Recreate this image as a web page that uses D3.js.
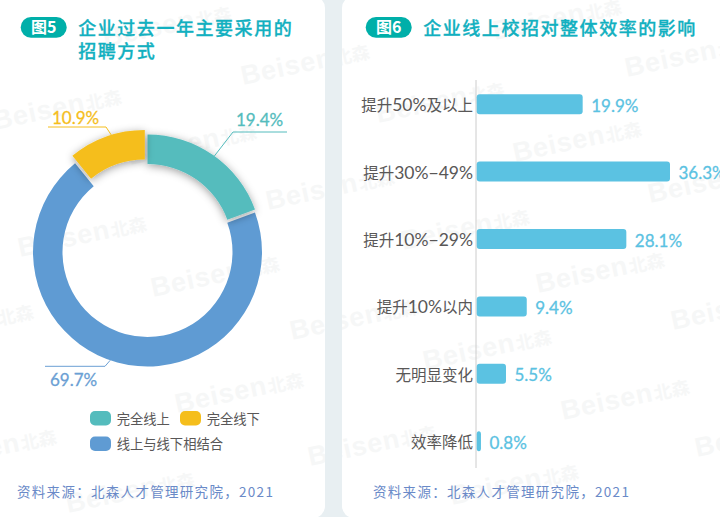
<!DOCTYPE html>
<html><head><meta charset="utf-8">
<script src="https://cdn.jsdelivr.net/npm/d3@7"></script>
<style>
html,body{margin:0;padding:0;background:#fff;overflow:hidden}
svg{display:block}
text{font-family:"Noto Sans CJK SC",sans-serif}
.num{font-family:Lato,"Noto Sans CJK SC",sans-serif;stroke-width:.3}
</style></head><body>
<svg id="c" width="720" height="517"></svg>
<script>
// --- data ---
const donutCategories = ["完全线上", "完全线下", "线上与线下相结合"];
const donutValues = [19.4, 10.9, 69.7];
const donutLabels = ["19.4%", "10.9%", "69.7%"];
const barCategories = ["提升50%及以上", "提升30%−49%", "提升10%−29%", "提升10%以内", "无明显变化", "效率降低"];
const barValues = [19.9, 36.3, 28.1, 9.4, 5.5, 0.8];
const barLabels = ["19.9%", "36.3%", "28.1%", "9.4%", "5.5%", "0.8%"];
const titleLeft = ["企业过去一年主要采用的", "招聘方式"];
const titleRight = ["企业线上校招对整体效率的影响"];
const sourceText = "资料来源：北森人才管理研究院，2021";

// --- layout / style ---
const W = 720, H = 517;
const sliceOrder = [0, 2, 1];           // clockwise order of the ring
const donutColors = ["#54bcbd", "#f5be1c", "#5f9bd3"];
const donutTextColors = ["#54bcbd", "#f5be1c", "#6b9fd4"];
const explode = [[0, -3], [-2.7, -7.5], [0, 0]];
const leaders = [
  {nudge: 0.8,  elbow: [233, 132],   end: [287, 132],   text: [236, 126]},
  {nudge: 2.6,  elbow: [106, 127],   end: [48, 127],    text: [52, 124]},
  {nudge: 3.7,  elbow: [105, 366.3], end: [45, 366.3],  text: [50, 385.7]}
];
const watermarks = [[-5,130],[105,47],[243,85],[130,165],[268,210],[20,257],[153,297],[292,340],[-93,345],[177,413],[-70,470],[310,466],[68,513],
  [495,40],[627,77],[378,123],[515,162],[403,250],[650,203],[538,293],[673,330],[425,370],[563,420],[697,457],[452,505]];

const svg = d3.select("#c");
const defs = svg.append("defs");
const f = defs.append("filter").attr("id","sh").attr("x","-30%").attr("y","-30%").attr("width","160%").attr("height","160%");
f.append("feDropShadow").attr("dx",0).attr("dy",2).attr("stdDeviation",4).attr("flood-color","#000").attr("flood-opacity",0.38);
const clip = defs.append("clipPath").attr("id","cards");
const cards = [[-20,345],[342,398]];
cards.forEach(([cxx,cw]) => clip.append("rect").attr("x",cxx).attr("y",-4).attr("width",cw).attr("height",H+5).attr("rx",12));

// background + cards
svg.append("rect").attr("width",W).attr("height",H).attr("fill","#e8eff2");
cards.forEach(([cxx,cw]) => svg.append("rect").attr("x",cxx).attr("y",-4).attr("width",cw).attr("height",H+5).attr("rx",12).attr("fill","#fff"));

// watermarks
const gW = svg.append("g").attr("clip-path","url(#cards)");
const wm = gW.selectAll("text").data(watermarks).join("text")
  .attr("transform", d => `translate(${d[0]},${d[1]}) rotate(-12)`)
  .attr("font-weight",700).attr("fill","#f6f7f7");
wm.append("tspan").attr("font-size",27).attr("letter-spacing",0.8)
  .style("font-family",'"Liberation Sans",sans-serif').text("Beisen");
wm.append("tspan").attr("font-size",18).attr("dx",1).text("北森");

function heading(x, label, lines) {
  const pillW = 46;
  svg.append("rect").attr("x",x).attr("y",17).attr("width",pillW).attr("height",20.7).attr("rx",10.3).attr("fill","#00afa9");
  svg.append("text").attr("x",x+pillW/2).attr("y",33.3).attr("text-anchor","middle")
    .attr("font-size",16).attr("font-weight",700).attr("fill","#fff").text(label);
  lines.forEach((t,i) => svg.append("text").attr("x",x+57.5).attr("y",34.5+i*23)
    .attr("font-size",18).attr("font-weight",500).attr("letter-spacing",1.55)
    .attr("fill","#12b0c0").attr("stroke","#12b0c0").attr("stroke-width",0.3).text(t));
}
heading(20.7, "图5", titleLeft);
heading(365.7, "图6", titleRight);

// donut
const cx = 147.5, cy = 252, rO = 114.5, rI = 85;
const pieSlices = d3.pie().sort(null).value(i => donutValues[i])(sliceOrder);
const sliceOf = i => pieSlices.find(p => p.data === i);
const arc = d3.arc().innerRadius(rI).outerRadius(rO);
const gD = svg.append("g").attr("transform",`translate(${cx},${cy})`);
[2,0,1].forEach(i => {
  gD.append("path").attr("d",arc(sliceOf(i))).attr("fill",donutColors[i])
    .attr("transform",`translate(${explode[i]})`)
    .attr("filter", i === 2 ? null : "url(#sh)");
});
donutValues.forEach((v,i) => {
  const L = leaders[i], p = sliceOf(i);
  const a = (p.startAngle + p.endAngle)/2 + L.nudge*Math.PI/180;
  const sx = cx + explode[i][0] + Math.sin(a)*rO, sy = cy + explode[i][1] - Math.cos(a)*rO;
  svg.append("path").attr("d",d3.line()([[sx,sy],L.elbow,L.end]))
    .attr("fill","none").attr("stroke",donutTextColors[i]).attr("stroke-width",1);
  svg.append("text").attr("class","num").attr("x",L.text[0]).attr("y",L.text[1])
    .attr("font-size",17).attr("fill",donutTextColors[i]).attr("stroke",donutTextColors[i]).text(donutLabels[i]);
});

// donut legend
const legendPos = [[90,411],[180,411],[90,436.5]];
donutCategories.forEach((c,i) => {
  const [x,y] = legendPos[i];
  svg.append("rect").attr("x",x).attr("y",y).attr("width",21).attr("height",14.5).attr("rx",5).attr("fill",donutColors[i]);
  svg.append("text").attr("x",x+26.7).attr("y",y+12.5).attr("font-size",13.3).attr("fill","#595757").text(c);
});

// bars
const x = d3.scaleLinear().domain([0,36.3]).range([476.7,670]);
const y = d3.scaleBand().domain(barCategories).range([70.5,474.9]).paddingInner(0.703).paddingOuter(0.3515);
svg.append("line").attr("x1",476).attr("x2",476).attr("y1",80).attr("y2",468).attr("stroke","#cccccc").attr("stroke-width",1);
svg.selectAll("rect.bar").data(barCategories).join("rect").attr("class","bar")
  .attr("x",x(0)).attr("y",d => y(d)).attr("width",(d,i) => x(barValues[i])-x(0)).attr("height",y.bandwidth())
  .attr("rx",3).attr("fill","#5bc2e2");
svg.selectAll("text.val").data(barCategories).join("text").attr("class","val num")
  .attr("x",(d,i) => x(barValues[i])+8.5).attr("y",d => y(d)+y.bandwidth()/2+7.5)
  .attr("font-size",17).attr("fill","#5bc2e2").attr("stroke","#5bc2e2").text((d,i) => barLabels[i]);
const cats = svg.selectAll("text.cat").data(barCategories).join("text").attr("class","cat")
  .attr("x",473).attr("y",d => y(d)+y.bandwidth()/2+7).attr("text-anchor","end")
  .attr("font-size",15.5).attr("fill","#595757");
cats.each(function(d){
  const t = d3.select(this);
  d.split(/([0-9%−]+)/).filter(s => s).forEach(s => {
    const ts = t.append("tspan").text(s);
    if (/^[0-9%−]/.test(s)) ts.attr("font-size",17.5).style("font-family","Lato,sans-serif");
  });
});

// sources
[17,373].forEach(sx => svg.append("text").attr("x",sx).attr("y",496.5)
  .attr("font-size",13.5).attr("letter-spacing",1.3).attr("fill","#6a8ac8").text(sourceText));
</script>
</body></html>
